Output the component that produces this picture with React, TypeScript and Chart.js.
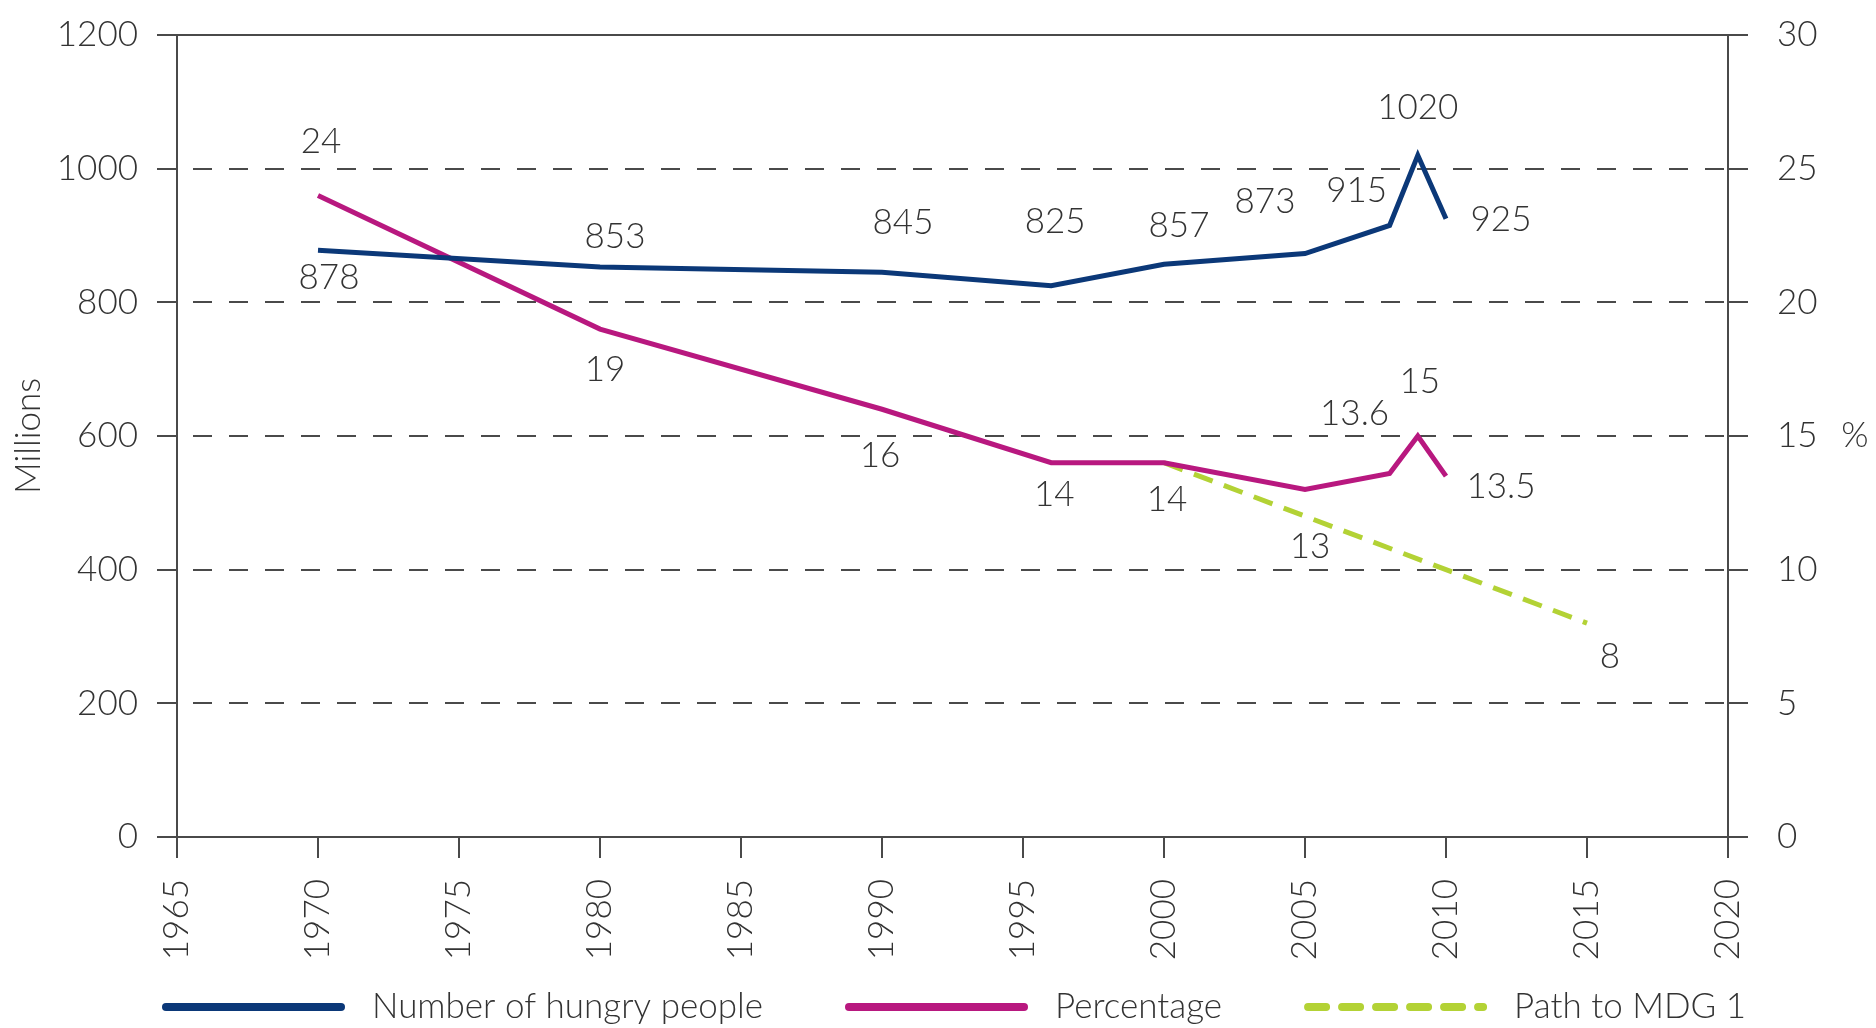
import React, { useEffect, useRef } from 'react';
import { Chart, registerables } from 'chart.js';

Chart.register(...registerables);

// ---------- data ----------
const years = [1970, 1980, 1990, 1996, 2000, 2005, 2008, 2009, 2010];
const hungryMillions = [878, 853, 845, 825, 857, 873, 915, 1020, 925];
const hungryPercent = [24, 19, 16, 14, 14, 13, 13.6, 15, 13.5];
const mdgYears = [2000, 2015];
const mdgPercent = [14, 8];
const mdgLabels = [null, '8'];
const xTickValues = [1965, 1970, 1975, 1980, 1985, 1990, 1995, 2000, 2005, 2010, 2015, 2020];
const leftTickValues = [0, 200, 400, 600, 800, 1000, 1200];
const rightTickValues = [0, 5, 10, 15, 20, 25, 30];
const seriesNames = ['Number of hungry people', 'Percentage', 'Path to MDG 1'];
const leftTitle = 'Millions';
const rightTitle = '%';

// label placement relative to the point (style only)
const hungryLabelOffsets = [[11, 28], [15, -30], [21, -50], [4, -64], [15, -39], [-40, -52], [-33, -35], [0, -48], [55, 1]];
const percentLabelOffsets = [[3, -54], [5, 41], [-2, 46], [3, 32], [3, 37], [5, 57], [-35, -60], [2, -54], [55, 11]];
const mdgLabelOffsets = [[0, 0], [23, 34]];

// ---------- style ----------
const FONT = "Lato, 'Open Sans', 'DejaVu Sans', sans-serif";
const FONT_WEIGHT = 300;
const FONT_SIZE = 35;
const TEXT = '#333333';
const AXIS = '#4a4a4a';
const BLUE = '#0b3878';
const PINK = '#b8187f';
const GREEN = '#b3d235';

const pointLabelsPlugin = {
  id: 'pointLabels',
  afterDatasetsDraw(chart: any) {
    const ctx = chart.ctx;
    ctx.save();
    ctx.font = `${FONT_WEIGHT} ${FONT_SIZE}px ${FONT}`;
    ctx.fillStyle = TEXT;
    ctx.textAlign = 'center';
    ctx.textBaseline = 'middle';
    chart.data.datasets.forEach((ds: any, di: number) => {
      const texts = ds.valueLabels;
      const offs = ds.labelOffsets;
      if (!texts) return;
      const meta = chart.getDatasetMeta(di);
      meta.data.forEach((el: any, i: number) => {
        if (texts[i] == null) return;
        ctx.fillText(texts[i], el.x + offs[i][0], el.y + offs[i][1]);
      });
    });
    ctx.restore();
  },
};

const customLegendPlugin = {
  id: 'customLegend',
  afterDraw(chart: any, _args: any, opts: any) {
    const ctx = chart.ctx;
    ctx.save();
    ctx.font = `${FONT_WEIGHT} ${FONT_SIZE}px ${FONT}`;
    ctx.fillStyle = TEXT;
    ctx.textAlign = 'left';
    ctx.textBaseline = 'middle';
    const y = chart.height - opts.bottomOffset;
    let x = opts.startX;
    chart.data.datasets.forEach((ds: any) => {
      ctx.beginPath();
      ctx.strokeStyle = ds.borderColor;
      ctx.lineWidth = opts.lineWidth;
      ctx.lineCap = 'round';
      ctx.setLineDash(ds.legendDash || []);
      ctx.moveTo(x + opts.lineWidth / 2, y);
      ctx.lineTo(x + opts.lineLength - opts.lineWidth / 2, y);
      ctx.stroke();
      ctx.setLineDash([]);
      const tx = x + opts.lineLength + opts.textGap;
      ctx.fillText(ds.label, tx, y);
      x = tx + ctx.measureText(ds.label).width + opts.itemGap;
    });
    ctx.restore();
  },
};

const rightTitlePlugin = {
  id: 'rightTitle',
  afterDraw(chart: any) {
    const s = chart.scales.y1;
    const ctx = chart.ctx;
    ctx.save();
    ctx.font = `${FONT_WEIGHT} ${FONT_SIZE}px ${FONT}`;
    ctx.fillStyle = TEXT;
    ctx.textAlign = 'center';
    ctx.textBaseline = 'middle';
    ctx.fillText(rightTitle, s.right - 21, (chart.chartArea.top + chart.chartArea.bottom) / 2);
    ctx.restore();
  },
};

const noScalePadding = (s: any) => {
  s.paddingTop = 0;
  s.paddingBottom = 0;
  s.paddingLeft = 0;
  s.paddingRight = 0;
};

export default function App() {
  const ref = useRef<HTMLCanvasElement | null>(null);

  useEffect(() => {
    if (!ref.current) return;
    const font = { family: FONT, size: FONT_SIZE, weight: FONT_WEIGHT as any };
    const chart = new Chart(ref.current, {
      type: 'line',
      data: {
        datasets: [
          {
            label: seriesNames[0],
            data: years.map((x, i) => ({ x, y: hungryMillions[i] })),
            yAxisID: 'y',
            borderColor: BLUE,
            backgroundColor: BLUE,
            borderWidth: 5,
            pointRadius: 0,
            borderJoinStyle: 'miter',
            valueLabels: hungryMillions.map(String),
            labelOffsets: hungryLabelOffsets,
          } as any,
          {
            label: seriesNames[1],
            data: years.map((x, i) => ({ x, y: hungryPercent[i] })),
            yAxisID: 'y1',
            borderColor: PINK,
            backgroundColor: PINK,
            borderWidth: 5,
            pointRadius: 0,
            borderJoinStyle: 'miter',
            valueLabels: hungryPercent.map(String),
            labelOffsets: percentLabelOffsets,
          } as any,
          {
            label: seriesNames[2],
            data: mdgYears.map((x, i) => ({ x, y: mdgPercent[i] })),
            yAxisID: 'y1',
            borderColor: GREEN,
            backgroundColor: GREEN,
            borderWidth: 5,
            borderDash: [20, 12],
            pointRadius: 0,
            valueLabels: mdgLabels,
            labelOffsets: mdgLabelOffsets,
            legendDash: [18, 16],
          } as any,
        ],
      },
      options: {
        responsive: false,
        animation: false,
        parsing: true,
        layout: { padding: { top: 35, left: 0, right: 0, bottom: 0 } },
        plugins: {
          legend: { display: false },
          tooltip: { enabled: false },
          customLegend: { startX: 162, lineLength: 183, lineWidth: 8, textGap: 27, itemGap: 82, bottomOffset: 21 },
        } as any,
        scales: {
          x: {
            type: 'linear',
            min: xTickValues[0],
            max: xTickValues[xTickValues.length - 1],
            afterBuildTicks: (s: any) => {
              s.ticks = xTickValues.map((v) => ({ value: v }));
            },
            afterFit: (s: any) => {
              s.height = 191;
              noScalePadding(s);
            },
            ticks: {
              callback: (v: any) => String(v),
              maxRotation: 90,
              minRotation: 90,
              padding: 21,
              color: TEXT,
              font,
            },
            grid: { drawOnChartArea: false, tickLength: 21, color: AXIS, lineWidth: 2 },
            border: { color: AXIS, width: 2 },
          },
          y: {
            position: 'left',
            min: leftTickValues[0],
            max: leftTickValues[leftTickValues.length - 1],
            afterBuildTicks: (s: any) => {
              s.ticks = leftTickValues.map((v) => ({ value: v }));
            },
            afterFit: (s: any) => {
              s.width = 177;
              noScalePadding(s);
            },
            ticks: { callback: (v: any) => String(v), padding: 19, color: TEXT, font },
            grid: { color: AXIS, lineWidth: 2, tickLength: 20 },
            border: {
              color: AXIS,
              width: 2,
              dash: (c: any) => (c.tick && (c.tick.value === 0 || c.tick.value === 1200) ? [] : [19, 17]),
              dashOffset: 21,
            } as any,
            title: { display: true, text: leftTitle, color: TEXT, font, padding: { top: 8, bottom: 0 } },
          },
          y1: {
            position: 'right',
            min: rightTickValues[0],
            max: rightTickValues[rightTickValues.length - 1],
            afterBuildTicks: (s: any) => {
              s.ticks = rightTickValues.map((v) => ({ value: v }));
            },
            afterFit: (s: any) => {
              s.width = 148;
              noScalePadding(s);
            },
            ticks: { callback: (v: any) => String(v), padding: 29, color: TEXT, font },
            grid: { drawOnChartArea: false, color: AXIS, lineWidth: 2, tickLength: 20 },
            border: { color: AXIS, width: 2 },
          },
        },
      } as any,
      plugins: [pointLabelsPlugin, customLegendPlugin, rightTitlePlugin],
    });
    return () => chart.destroy();
  }, []);

  return (
    <div style={{ position: 'absolute', left: 0, top: 0, width: 1876, height: 1028, background: '#ffffff' }}>
      <canvas ref={ref} width={1876} height={1028} style={{ display: 'block' }} />
    </div>
  );
}
